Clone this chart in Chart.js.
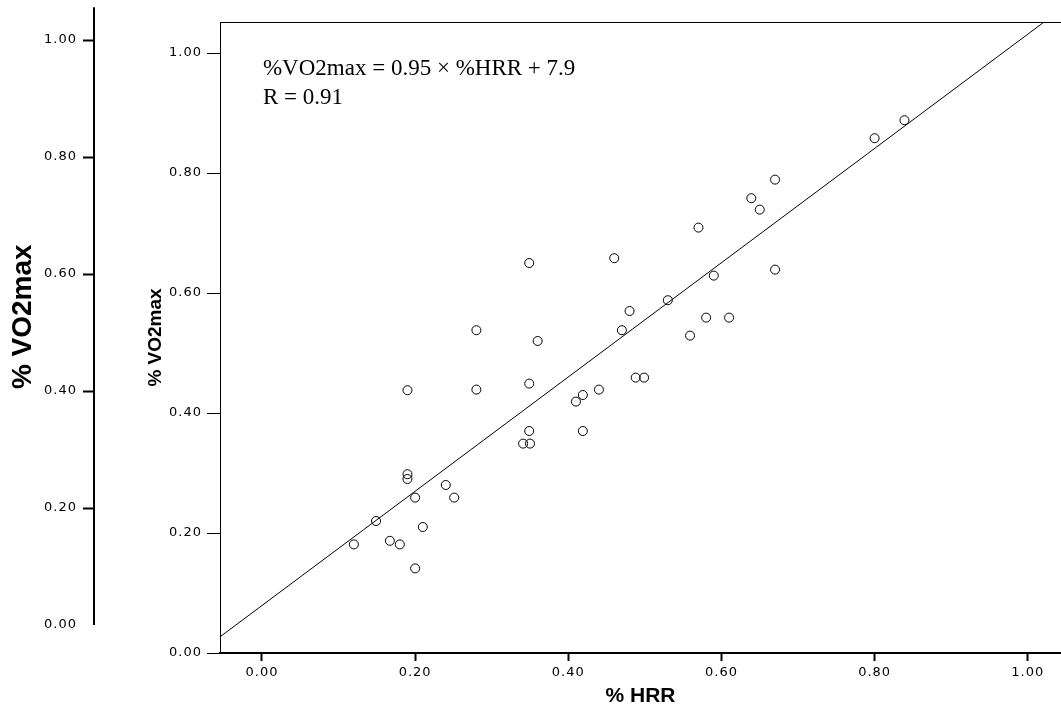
<!DOCTYPE html>
<html>
<head>
<meta charset="utf-8">
<script src="https://cdn.jsdelivr.net/npm/chart.js@4.4.1/dist/chart.umd.min.js"></script>
<style>
html,body{margin:0;padding:0;background:#ffffff;overflow:hidden;}
#wrap{width:1061px;height:713px;position:relative;}
canvas{display:block;}
</style>
</head>
<body>
<div id="wrap"><canvas id="c" width="1061" height="713"></canvas></div>
<script>
// ---- data ----
const hrr = [0.800, 0.839, 0.670, 0.639, 0.650, 0.570, 0.670, 0.590, 0.460, 0.349,
             0.530, 0.480, 0.580, 0.610, 0.470, 0.280, 0.360, 0.559, 0.190, 0.280,
             0.349, 0.488, 0.499, 0.440, 0.419, 0.410, 0.349, 0.419, 0.341, 0.350,
             0.190, 0.190, 0.240, 0.200, 0.251, 0.149, 0.210, 0.120, 0.167, 0.180, 0.200];
const vo2 = [0.858, 0.888, 0.789, 0.758, 0.739, 0.709, 0.639, 0.629, 0.658, 0.650,
             0.588, 0.570, 0.559, 0.559, 0.538, 0.538, 0.520, 0.529, 0.438, 0.439,
             0.449, 0.459, 0.459, 0.439, 0.430, 0.419, 0.370, 0.370, 0.349, 0.349,
             0.298, 0.290, 0.280, 0.259, 0.259, 0.220, 0.210, 0.181, 0.187, 0.181, 0.141];
const fitX = [-0.06, 1.05];
const fitY = [0.022, 1.079];
const xTicks = [0, 0.2, 0.4, 0.6, 0.8, 1.0];
const yTicks = [0, 0.2, 0.4, 0.6, 0.8, 1.0];
const outerTicks = [0, 0.2, 0.4, 0.6, 0.8, 1.0];
const xTitle = '% HRR';
const yTitle = '% VO2max';
const eqLines = ['%VO2max = 0.95 \u00D7 %HRR + 7.9', 'R = 0.91'];

// ---- styling / layout ----
const tickFont = {family: '"DejaVu Sans", sans-serif', size: 13};
const tickSpacing = '1px';
const fmt = v => Number(v).toFixed(2);
const setTicks = arr => scale => { scale.ticks = arr.map(v => ({value: v})); };
const noPad = s => { s.paddingLeft = 0; s.paddingRight = 0; s.paddingTop = 0; s.paddingBottom = 0; };

const decor = {
  id: 'decor',
  beforeDraw(chart) { chart.ctx.letterSpacing = '0px'; },
  afterDatasetsDraw(chart) { chart.ctx.letterSpacing = tickSpacing; },
  afterDraw(chart) {
    const {ctx, scales} = chart;
    const y2 = scales.y2, x = scales.x, y = scales.y;
    ctx.save();
    ctx.letterSpacing = '0px';
    // outer axis line
    ctx.strokeStyle = '#000';
    ctx.lineWidth = 2;
    ctx.beginPath();
    const ax = y2.right - 1;
    ctx.moveTo(ax, y2.getPixelForValue(0));
    ctx.lineTo(ax, y2.getPixelForValue(1.056));
    ctx.stroke();
    // outer axis title
    ctx.save();
    ctx.translate(y2.left + 23, y2.getPixelForValue(0.527));
    ctx.rotate(-Math.PI / 2);
    ctx.font = 'bold 28px "Liberation Sans", Arial, sans-serif';
    ctx.fillStyle = '#000';
    ctx.textAlign = 'center';
    ctx.textBaseline = 'middle';
    ctx.fillText(yTitle, 0, 0);
    ctx.restore();
    // equation annotation
    ctx.font = '23px "Liberation Serif", "Times New Roman", serif';
    ctx.fillStyle = '#000';
    ctx.textAlign = 'left';
    ctx.textBaseline = 'alphabetic';
    const tx = x.getPixelForValue(0) + 1;
    ctx.fillText(eqLines[0], tx, y.getPixelForValue(0.964));
    ctx.fillText(eqLines[1], tx, y.getPixelForValue(0.915));
    ctx.restore();
  }
};

new Chart(document.getElementById('c'), {
  type: 'scatter',
  data: {
    datasets: [
      {
        label: 'data',
        data: hrr.map((v, i) => ({x: v, y: vo2[i]})),
        pointRadius: 4.5,
        pointHoverRadius: 4.5,
        pointBorderWidth: 1,
        borderColor: '#000',
        pointBorderColor: '#000',
        backgroundColor: 'rgba(0,0,0,0)',
        pointBackgroundColor: 'rgba(0,0,0,0)',
        xAxisID: 'x', yAxisID: 'y'
      },
      {
        label: 'fit',
        data: fitX.map((v, i) => ({x: v, y: fitY[i]})),
        showLine: true,
        borderColor: '#000',
        borderWidth: 1,
        pointRadius: 0,
        pointHoverRadius: 0,
        xAxisID: 'x', yAxisID: 'y'
      }
    ]
  },
  options: {
    responsive: false,
    devicePixelRatio: 1,
    animation: false,
    events: [],
    layout: {autoPadding: false, padding: {top: 22, left: 0, right: 0, bottom: 0}},
    plugins: {legend: {display: false}, tooltip: {enabled: false}},
    scales: {
      x: {
        type: 'linear', position: 'bottom',
        min: -0.0548, max: 1.0434,
        afterBuildTicks: setTicks(xTicks),
        afterFit: s => { s.height = 60; noPad(s); },
        ticks: {callback: fmt, font: tickFont, color: '#000', padding: 4, maxRotation: 0, autoSkip: false, z: 1},
        grid: {drawOnChartArea: false, drawTicks: true, tickLength: 8, tickWidth: 2, color: '#000'},
        border: {display: true, width: 2, color: '#000'},
        title: {display: true, text: xTitle, color: '#000',
                font: {family: '"Liberation Sans", Arial, sans-serif', size: 21, weight: 'bold'},
                padding: {top: 0, bottom: 4}}
      },
      x2: {
        type: 'linear', position: 'top',
        min: -0.0548, max: 1.0434,
        afterFit: s => { s.height = 0; noPad(s); },
        ticks: {display: false},
        grid: {display: false, drawTicks: false},
        border: {display: true, width: 1, color: '#000'}
      },
      y: {
        type: 'linear', position: 'left', weight: 0,
        min: 0, max: 1.0517,
        afterBuildTicks: setTicks(yTicks),
        afterFit: s => { s.width = 125; noPad(s); },
        ticks: {callback: fmt, font: tickFont, color: '#000', padding: 5, autoSkip: false, z: 1},
        grid: {drawOnChartArea: false, drawTicks: true, tickLength: 13, tickWidth: 1, color: '#000'},
        border: {display: true, width: 1, color: '#000'},
        title: {display: true, text: yTitle, color: '#000',
                font: {family: '"Liberation Sans", Arial, sans-serif', size: 19, weight: 'bold'},
                padding: {top: 49.6, bottom: 0}}
      },
      y2: {
        type: 'linear', position: 'left', weight: 1,
        min: -0.04786, max: 1.03077,
        afterBuildTicks: setTicks(outerTicks),
        afterFit: s => { s.width = 95; noPad(s); },
        ticks: {callback: fmt, font: tickFont, color: '#000', padding: 6, autoSkip: false, z: 1},
        grid: {drawOnChartArea: false, drawTicks: true, tickLength: 12, tickWidth: 2,
               color: ctx => (ctx.tick && ctx.tick.value === 0) ? 'rgba(0,0,0,0)' : '#000'},
        border: {display: false},
        title: {display: false}
      }
    }
  },
  plugins: [decor]
});
</script>
</body>
</html>
